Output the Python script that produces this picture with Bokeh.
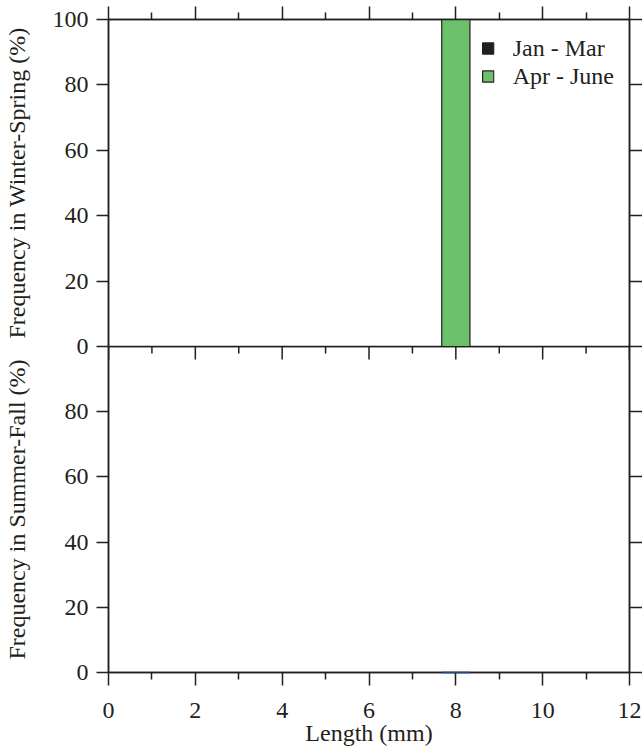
import math
from bokeh.plotting import figure
from bokeh.layouts import column
from bokeh.models import (Range1d, LinearAxis, FixedTicker, Legend, LegendItem,
                          ColumnDataSource)
from bokeh.embed import file_html
from bokeh.resources import INLINE

# ---------------- data ----------------
lengths = [8]                    # length class (mm)
jan_mar = [0]                    # Winter-Spring, Jan - Mar (%)
apr_june = [100]                 # Winter-Spring, Apr - June (%)
summer_fall = [0]                # Summer-Fall (%)

x_major = [0, 2, 4, 6, 8, 10, 12]
x_minor = [1, 3, 5, 7, 9, 11]
top_ticks = [0, 20, 40, 60, 80, 100]
bottom_ticks = [0, 20, 40, 60, 80]

# ---------------- style ----------------
INK = "#231f20"
GREEN = "#6cc06a"
NAVY = "#1c4a7e"
FONT = "Liberation Serif"
FS = "24px"
BAR_W = 0.65
OVERLAP = 16          # bottom border of the upper panel, overlapped by the lower one


def style_axis(ax, labels=True):
    ax.axis_line_color = INK
    ax.axis_line_width = 1.5
    ax.major_tick_line_color = INK
    ax.major_tick_line_width = 1.5
    ax.minor_tick_line_color = INK
    ax.minor_tick_line_width = 1.5
    ax.major_tick_in = 0
    ax.minor_tick_in = 0
    ax.major_label_text_font = FONT
    ax.major_label_text_font_size = FS
    ax.major_label_text_color = INK if labels else None
    ax.axis_label_text_font = FONT
    ax.axis_label_text_font_size = FS
    ax.axis_label_text_font_style = "normal"
    ax.axis_label_text_color = INK


def base_fig(height, top_border, bottom_border):
    f = figure(width=642, height=height, output_backend="svg",
               toolbar_location=None, x_range=Range1d(0, 12),
               y_range=Range1d(0, 100),
               min_border_left=107, min_border_right=13,
               min_border_top=top_border, min_border_bottom=bottom_border,
               x_axis_location=None, y_axis_location=None)
    f.grid.visible = False
    f.outline_line_color = INK
    f.outline_line_width = 1.5
    f.background_fill_alpha = 0
    f.border_fill_alpha = 0
    return f


# ================= upper panel: Winter-Spring =================
pt = base_fig(19 + 327 + OVERLAP, 19, OVERLAP)

lt = LinearAxis(ticker=FixedTicker(ticks=top_ticks, minor_ticks=[]),
                axis_label="Frequency in Winter-Spring (%)")
style_axis(lt)
lt.major_tick_out = 12
lt.minor_tick_out = 0
lt.major_label_standoff = 8
lt.axis_label_standoff = 20
pt.add_layout(lt, "left")

rt = LinearAxis(ticker=FixedTicker(ticks=top_ticks, minor_ticks=[]))
style_axis(rt, labels=False)
rt.major_tick_out = 13
pt.add_layout(rt, "right")

at = LinearAxis(ticker=FixedTicker(ticks=x_major, minor_ticks=x_minor))
style_axis(at, labels=False)
at.major_tick_out = 13
at.minor_tick_out = 7
pt.add_layout(at, "above")

src = ColumnDataSource(dict(x=lengths, jm=jan_mar, aj=apr_june, sf=summer_fall))
r_jm = pt.vbar(x="x", top="jm", bottom=0, width=BAR_W, source=src,
               fill_color=INK, line_color=INK, line_width=1.2)
r_aj = pt.vbar(x="x", top="aj", bottom=0, width=BAR_W, source=src,
               fill_color=GREEN, line_color=INK, line_width=1.2)

legend = Legend(items=[LegendItem(label="Jan - Mar", renderers=[r_jm]),
                       LegendItem(label="Apr - June", renderers=[r_aj])],
                location="top_right", border_line_color=None,
                background_fill_alpha=0, label_text_font=FONT,
                label_text_font_size=FS, label_text_color=INK,
                glyph_width=14, glyph_height=14, label_standoff=18,
                spacing=0, padding=5, margin=15, label_height=28)
pt.add_layout(legend)

# ================= lower panel: Summer-Fall =================
pb = base_fig(326 + 77, 0, 77)
pb.margin = (-OVERLAP, 0, 0, 0)

lb = LinearAxis(ticker=FixedTicker(ticks=bottom_ticks, minor_ticks=[]),
                axis_label="Frequency in Summer-Fall (%)")
style_axis(lb)
lb.major_tick_out = 12
lb.minor_tick_out = 0
lb.major_label_standoff = 8
lb.axis_label_standoff = 32
pb.add_layout(lb, "left")

rb = LinearAxis(ticker=FixedTicker(ticks=bottom_ticks, minor_ticks=[]))
style_axis(rb, labels=False)
rb.major_tick_out = 13
pb.add_layout(rb, "right")

bb = LinearAxis(ticker=FixedTicker(ticks=x_major, minor_ticks=x_minor),
                axis_label="Length (mm)")
style_axis(bb)
bb.major_tick_out = 13
bb.minor_tick_out = 7
bb.major_label_standoff = 17
bb.axis_label_standoff = -1
pb.add_layout(bb, "below")

# ticks of the upper panel's x axis, pointing down into the lower panel
top_edge = pb.y_range.end
pb.ray(x=x_major, y=[top_edge] * len(x_major), length=13, length_units="screen",
       angle=-math.pi / 2, line_color=INK, line_width=1.5)
pb.ray(x=x_minor, y=[top_edge] * len(x_minor), length=7, length_units="screen",
       angle=-math.pi / 2, line_color=INK, line_width=1.5)

r_sf = pb.vbar(x="x", top="sf", bottom=0, width=BAR_W, source=src,
               fill_color=NAVY, line_color=NAVY, line_width=1.5)
r_sf.level = "overlay"

layout = column(pt, pb, spacing=0)
open("out.html", "w").write(file_html(layout, INLINE))
